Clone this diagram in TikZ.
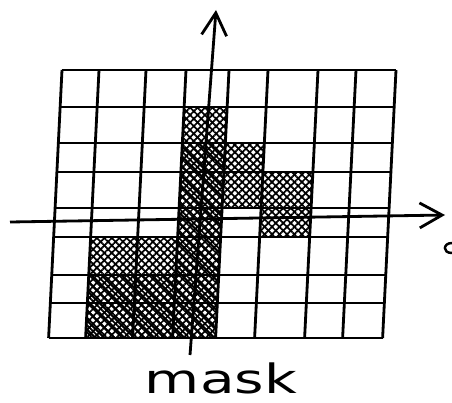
\documentclass[tikz,border=0pt]{standalone}
\usepackage{fontspec}
\newfontfamily\handfont{DejaVu Sans}
\usetikzlibrary{arrows.meta, patterns.meta}

\begin{document}
\begin{tikzpicture}[
	x=0.02cm, y=-0.02cm,
	>={Straight Barb[length=4.5mm,width=5mm]},
	gridline/.style={line width=1.6pt, black},
	axis/.style={->, line width=1.6pt, black},
	hatch/.style={
		preaction={pattern={Lines[angle=45,distance=3pt,line width=1pt]}},
		pattern={Lines[angle=-45,distance=3pt,line width=1pt]}
	},
	hatchdiag/.style={pattern={Lines[angle=-45,distance=4pt,line width=1.3pt]}},
	masklabel/.style={font=\handfont\fontsize{23}{23}\selectfont, anchor=base, inner sep=0pt}
	]
	\useasboundingbox (0,0) rectangle (452,402);
	
	% Slanted hand-drawn grid, 8 x 8 cells
	\begin{scope}[shift={(0,70)}, xslant=0.05]
		% Hatched cells of the mask
		\fill[hatch] (186,37) rectangle (229,268);
		\fill[hatch] (229,73) rectangle (268,138);
		\fill[hatch] (268,102) rectangle (318,167);
		\fill[hatch] (99,167) rectangle (186,268);
		\fill[hatchdiag] (186,73) rectangle (229,268);
		\fill[hatchdiag] (99,205) rectangle (186,268);
		
		% Grid lines
		\foreach \cx in {62,99,146,186,229,268,318,356,396}
			\draw[gridline] (\cx,0) -- (\cx,268);
		\foreach \ry in {0,37,73,102,138,167,205,233,268}
			\draw[gridline] (62,\ry) -- (396,\ry);
	\end{scope}
	
	% Axes
	\coordinate (xstart) at (10,222);
	\coordinate (xend)   at (445,215);
	\coordinate (ystart) at (190,355);
	\coordinate (yend)   at (216,10);
	\draw[axis] (xstart) -- (xend);
	\draw[axis] (ystart) -- (yend);
	
	% Cut-off mark at the right edge
	\draw[line width=1.4pt] (452,243) .. controls (443,243) and (442,253) .. (452,253);
	
	% Label
	\node[masklabel] (mask) at (221,393) {\scalebox{1.4}[1]{mask}};
\end{tikzpicture}
\end{document}
